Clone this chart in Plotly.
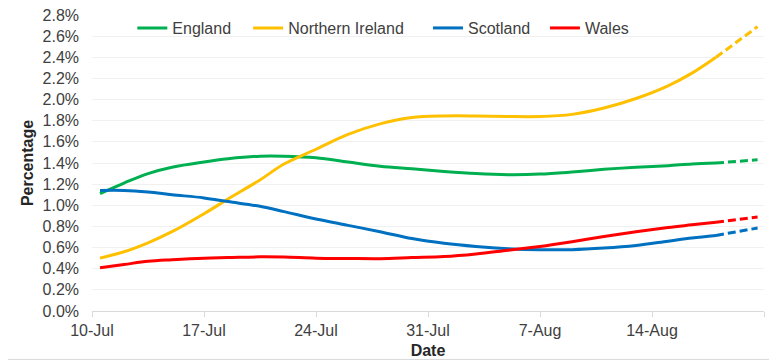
import pandas as pd
import plotly.graph_objects as go

start_date = "2020-07-10"
# days since 10-Jul for the read-off points (solid part)
days = [0.5, 2, 3.5, 5, 7, 8.5, 10.5, 12, 14, 16, 18, 20, 22, 24, 26, 28, 30, 32, 34, 36, 37.5, 39]
# projected (dashed) part
days_proj = [39, 41.6]

england = [1.11, 1.21, 1.30, 1.36, 1.41, 1.44, 1.465, 1.465, 1.45, 1.41, 1.37, 1.345, 1.32, 1.30, 1.29, 1.295, 1.315, 1.34, 1.36, 1.375, 1.39, 1.40]
n_ireland = [0.50, 0.56, 0.645, 0.75, 0.92, 1.06, 1.24, 1.39, 1.53, 1.67, 1.77, 1.83, 1.845, 1.845, 1.84, 1.84, 1.86, 1.92, 2.01, 2.13, 2.25, 2.40]
scotland = [1.14, 1.14, 1.125, 1.10, 1.07, 1.035, 0.99, 0.94, 0.87, 0.81, 0.75, 0.685, 0.64, 0.61, 0.59, 0.58, 0.58, 0.595, 0.62, 0.66, 0.69, 0.715]
wales = [0.41, 0.44, 0.47, 0.485, 0.50, 0.505, 0.512, 0.51, 0.50, 0.497, 0.495, 0.505, 0.515, 0.54, 0.575, 0.61, 0.655, 0.705, 0.75, 0.79, 0.815, 0.84]

england_proj = [1.40, 1.43]
n_ireland_proj = [2.40, 2.69]
scotland_proj = [0.715, 0.785]
wales_proj = [0.84, 0.89]

series_names = ["England", "Northern Ireland", "Scotland", "Wales"]
series_colors = ["#00B050", "#FFC000", "#0070C0", "#FF0000"]

tick_dates = ["2020-07-10", "2020-07-17", "2020-07-24", "2020-07-31", "2020-08-07", "2020-08-14", "2020-08-21"]
tick_labels = ["10-Jul", "17-Jul", "24-Jul", "31-Jul", "7-Aug", "14-Aug", ""]

t0 = pd.Timestamp(start_date)
def to_dates(ds):
    return [t0 + pd.Timedelta(days=d) for d in ds]

x_solid = to_dates(days)
x_proj = to_dates(days_proj)

fig = go.Figure()
legend_ids = ["legend", "legend2", "legend3", "legend4"]
solid_vals = [england, n_ireland, scotland, wales]
proj_vals = [england_proj, n_ireland_proj, scotland_proj, wales_proj]

for name, col, sv, pv, lid in zip(series_names, series_colors, solid_vals, proj_vals, legend_ids):
    fig.add_trace(go.Scatter(x=x_solid, y=sv, name=name, mode="lines",
                             line=dict(color=col, width=3, shape="spline", smoothing=1.0),
                             legend=lid))
    fig.add_trace(go.Scatter(x=x_proj, y=pv, name=name, mode="lines", showlegend=False,
                             line=dict(color=col, width=3, dash="8px,4px"),
                             legend=lid))

font_main = dict(family="Liberation Sans, Arial, sans-serif", size=16, color="#404040")
leg_common = dict(orientation="h", yanchor="middle", y=0.956, xanchor="left",
                  font=font_main, bgcolor="rgba(0,0,0,0)", borderwidth=0)

# the page body adds an 8px offset, so the figure is sized/margined to compensate
fig.update_layout(
    width=769, height=353,
    margin=dict(l=84, r=13, t=7, b=49.5, autoexpand=False),
    paper_bgcolor="white", plot_bgcolor="white",
    font=font_main,
    legend=dict(x=0.060, **leg_common),
    legend2=dict(x=0.2324, **leg_common),
    legend3=dict(x=0.500, **leg_common),
    legend4=dict(x=0.674, **leg_common),
    xaxis=dict(type="date", range=[pd.Timestamp("2020-07-10"), pd.Timestamp("2020-08-21")],
               tickvals=[pd.Timestamp(d) for d in tick_dates], ticktext=tick_labels,
               showgrid=False, showline=True, linecolor="#d9d9d9", linewidth=1,
               ticks="outside", ticklen=5, tickcolor="#d9d9d9",
               tickfont=font_main, zeroline=False,
               title=dict(text="<b>Date</b>", standoff=6,
                          font=dict(family="Liberation Sans, Arial, sans-serif", size=16, color="#262626"))),
    yaxis=dict(range=[0, 2.8], dtick=0.2, tick0=0, tickformat=".1f", ticksuffix="%",
               showgrid=True, gridcolor="#f0f0f0", gridwidth=1, zeroline=False,
               showline=False, ticks="", ticklabelstandoff=12, tickfont=font_main,
               ticklabeloverflow="allow",
               title=dict(text="<b>Percentage</b>", standoff=4,
                          font=dict(family="Liberation Sans, Arial, sans-serif", size=16, color="#262626"))),
    shapes=[dict(type="line", xref="paper", yref="paper", x0=-0.2, x1=1.1,
                 y0=-0.1636, y1=-0.1636, line=dict(color="#d9d9d9", width=1))],
)

fig.write_html("out.html")
